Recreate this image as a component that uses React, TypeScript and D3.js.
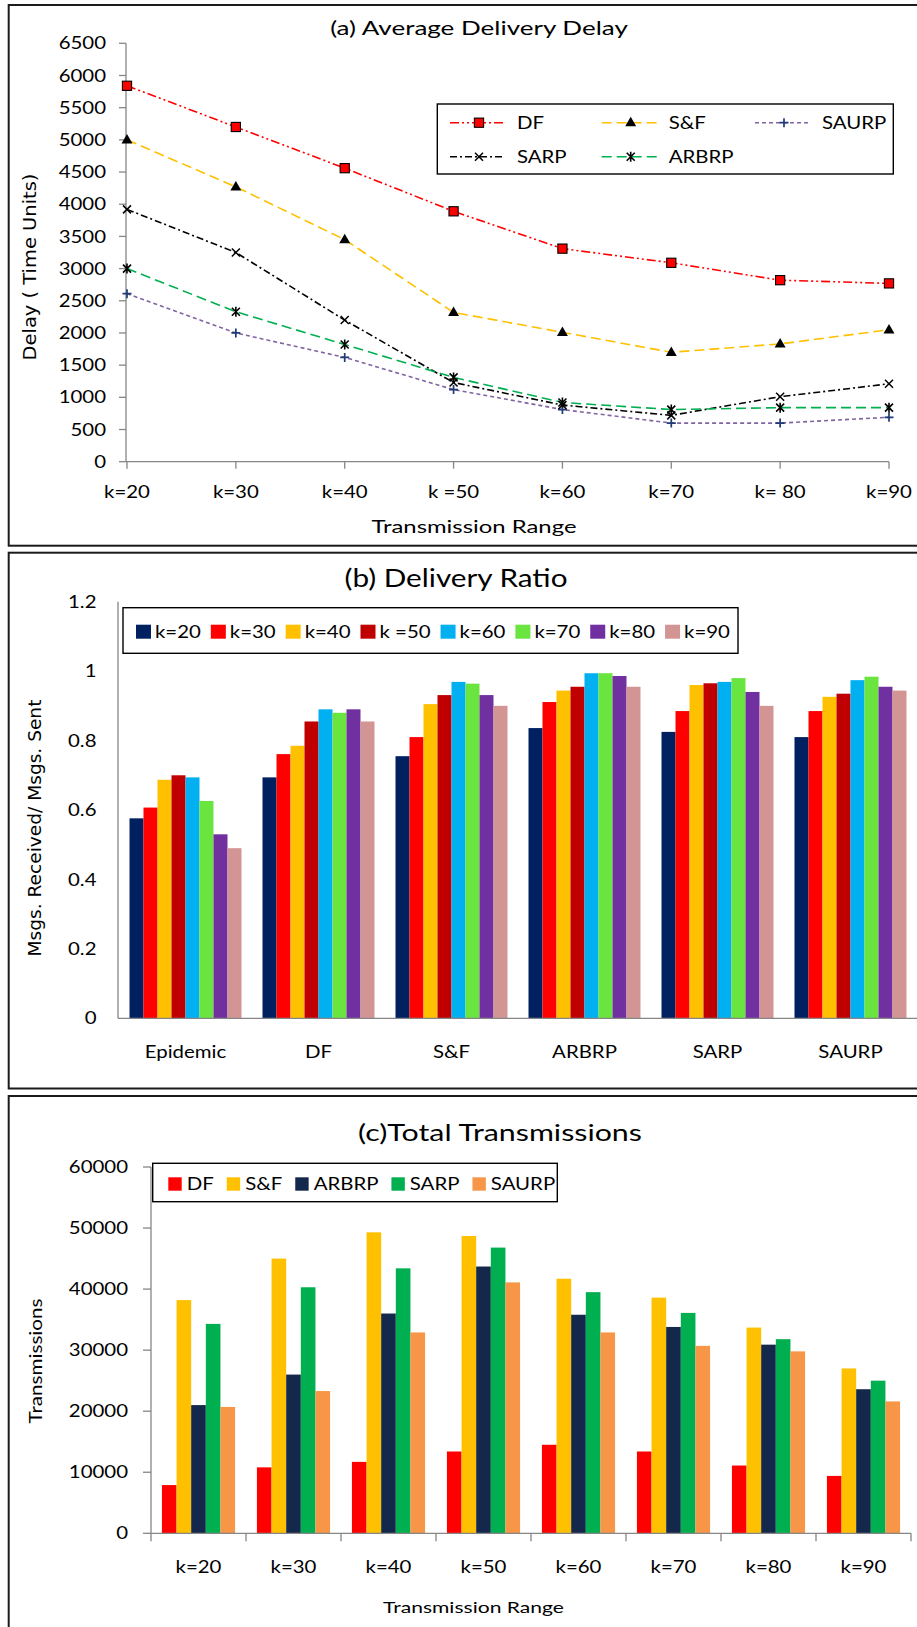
import React, { useEffect, useRef } from 'react';
import * as d3 from 'd3';

const W = 917;
const H = 1627;

const FONT = 'Lato, "Open Sans", sans-serif';
const WIDE_FONT = '"DejaVu Sans", Verdana, sans-serif';
const AXIS = '#868686';

// ---------- (a) Average Delivery Delay ----------
const rangeLabelsA = ['k=20', 'k=30', 'k=40', 'k =50', 'k=60', 'k=70', 'k= 80', 'k=90'];
const delayDF = [5840, 5200, 4560, 3890, 3310, 3090, 2820, 2770];
const delaySF = [5000, 4270, 3450, 2320, 2010, 1700, 1830, 2050];
const delaySAURP = [2610, 2000, 1620, 1120, 810, 600, 600, 690];
const delaySARP = [3920, 3250, 2200, 1230, 880, 720, 1010, 1210];
const delayARBRP = [3000, 2330, 1820, 1310, 920, 810, 840, 840];
const delayTicks = d3.range(0, 6501, 500);

// ---------- (b) Delivery Ratio ----------
const protocolsB = ['Epidemic', 'DF', 'S&F', 'ARBRP', 'SARP', 'SAURP'];
const rangeKeysB = ['k=20', 'k=30', 'k=40', 'k =50', 'k=60', 'k=70', 'k=80', 'k=90'];
const ratioEpidemic = [0.576, 0.607, 0.687, 0.7, 0.694, 0.626, 0.53, 0.49];
const ratioDF = [0.694, 0.761, 0.785, 0.855, 0.89, 0.88, 0.89, 0.855];
const ratioSF = [0.755, 0.81, 0.905, 0.931, 0.969, 0.964, 0.931, 0.9];
const ratioARBRP = [0.836, 0.911, 0.944, 0.955, 0.994, 0.994, 0.986, 0.955];
const ratioSARP = [0.825, 0.885, 0.96, 0.965, 0.969, 0.98, 0.94, 0.9];
const ratioSAURP = [0.81, 0.885, 0.926, 0.935, 0.974, 0.984, 0.955, 0.944];
const ratioTicks = [0, 0.2, 0.4, 0.6, 0.8, 1, 1.2];
const rangeColorsB = ['#002060', '#FF0000', '#FFC000', '#C00000', '#00B0F0', '#6AE43E', '#7030A0', '#D39594'];

// ---------- (c) Total Transmissions ----------
const rangeLabelsC = ['k=20', 'k=30', 'k=40', 'k=50', 'k=60', 'k=70', 'k=80', 'k=90'];
const protocolsC = ['DF', 'S&F', 'ARBRP', 'SARP', 'SAURP'];
const txDF = [7900, 10800, 11700, 13400, 14500, 13400, 11100, 9400];
const txSF = [38200, 45000, 49300, 48700, 41700, 38600, 33700, 27000];
const txARBRP = [21000, 26000, 36000, 43700, 35800, 33800, 30900, 23600];
const txSARP = [34300, 40300, 43400, 46800, 39500, 36100, 31800, 25000];
const txSAURP = [20700, 23300, 32900, 41100, 32900, 30700, 29800, 21600];
const txTicks = d3.range(0, 60001, 10000);
const protocolColorsC = ['#FF0000', '#FFC000', '#14284B', '#00B050', '#F79646'];

type G = d3.Selection<SVGGElement, unknown, null, undefined>;

interface LabelOpts {
  x: number;
  y: number;
  text: string;
  size?: number;
  family?: string;
  anchor?: string;
  sx?: number;
  rotate?: number;
  fit?: number;
  fill?: string;
}

// Text centred vertically on y, stretched horizontally by sx (or to a fixed width)
function label(g: G, o: LabelOpts) {
  const size = o.size ?? 17;
  const t = g
    .append('text')
    .attr('font-family', o.family ?? FONT)
    .attr('font-size', size)
    .attr('fill', o.fill ?? '#000')
    .attr('text-anchor', o.anchor ?? 'middle')
    .attr('dy', '0.36em')
    .text(o.text);
  let s = o.sx ?? 1.2;
  if (o.fit) {
    const w = (t.node() as SVGTextElement).getComputedTextLength();
    if (w > 0) s = o.fit / w;
  }
  t.attr('transform', `translate(${o.x},${o.y})${o.rotate ? ` rotate(${o.rotate})` : ''} scale(${s},1)`);
  return { node: t, width: (t.node() as SVGTextElement).getComputedTextLength() * s };
}

function frame(g: G, y0: number, y1: number) {
  g.append('rect')
    .attr('x', 8.7)
    .attr('y', y0)
    .attr('width', 940)
    .attr('height', y1 - y0)
    .attr('fill', 'none')
    .attr('stroke', '#1b1b1b')
    .attr('stroke-width', 2);
}

function marker(g: G, kind: string, x: number, y: number) {
  if (kind === 'square') {
    g.append('rect')
      .attr('x', x - 4.6)
      .attr('y', y - 4.6)
      .attr('width', 9.2)
      .attr('height', 9.2)
      .attr('fill', '#FF0000')
      .attr('stroke', '#000')
      .attr('stroke-width', 1.1);
  } else if (kind === 'triangle') {
    g.append('path')
      .attr('d', d3.symbol(d3.symbolTriangle, 52)())
      .attr('transform', `translate(${x},${y + 0.5})`)
      .attr('fill', '#000');
  } else if (kind === 'plus') {
    g.append('path')
      .attr('d', `M${x - 4.5},${y}H${x + 4.5}M${x},${y - 4.5}V${y + 4.5}`)
      .attr('stroke', '#1F3A78')
      .attr('stroke-width', 1.7)
      .attr('fill', 'none');
  } else if (kind === 'cross') {
    g.append('path')
      .attr('d', `M${x - 4},${y - 4}L${x + 4},${y + 4}M${x - 4},${y + 4}L${x + 4},${y - 4}`)
      .attr('stroke', '#000')
      .attr('stroke-width', 1.5)
      .attr('fill', 'none');
  } else if (kind === 'star') {
    g.append('path')
      .attr('d', `M${x - 4},${y - 4}L${x + 4},${y + 4}M${x - 4},${y + 4}L${x + 4},${y - 4}M${x},${y - 5}V${y + 5}`)
      .attr('stroke', '#000')
      .attr('stroke-width', 1.6)
      .attr('fill', 'none');
  }
}

function drawDelay(g: G) {
  frame(g, 5, 545.7);
  const x = d3.scalePoint<string>().domain(rangeLabelsA).range([127, 889]);
  const y = d3.scaleLinear().domain([0, 6500]).range([461.7, 43.3]);

  label(g, { x: 479, y: 28, text: '(a) Average Delivery Delay', size: 20, fit: 298 });

  // axes
  g.append('line').attr('x1', 126).attr('x2', 126).attr('y1', y(6500)).attr('y2', y(0)).attr('stroke', AXIS).attr('stroke-width', 1.3);
  delayTicks.forEach((t) => {
    g.append('line').attr('x1', 119).attr('x2', 126).attr('y1', y(t)).attr('y2', y(t)).attr('stroke', AXIS).attr('stroke-width', 1.3);
    label(g, { x: 106, y: y(t), text: String(t), anchor: 'end' });
  });
  g.append('line').attr('x1', 126).attr('x2', x(rangeLabelsA[7])!).attr('y1', y(0)).attr('y2', y(0)).attr('stroke', AXIS).attr('stroke-width', 1.3);
  rangeLabelsA.forEach((k) => {
    g.append('line').attr('x1', x(k)!).attr('x2', x(k)!).attr('y1', y(0)).attr('y2', y(0) + 7).attr('stroke', AXIS).attr('stroke-width', 1.3);
    label(g, { x: x(k)!, y: 492, text: k });
  });
  label(g, { x: 474, y: 527, text: 'Transmission Range', fit: 205 });
  label(g, { x: 30, y: 267, text: 'Delay ( Time Units)', family: WIDE_FONT, size: 18, rotate: -90, fit: 187 });

  const series = [
    { name: 'DF', values: delayDF, color: '#FF0000', dash: '9 3 2 3 2 3', mark: 'square' },
    { name: 'S&F', values: delaySF, color: '#FFC000', dash: '10 5', mark: 'triangle' },
    { name: 'SAURP', values: delaySAURP, color: '#8064A2', dash: '4 3', mark: 'plus' },
    { name: 'SARP', values: delaySARP, color: '#000000', dash: '7 3 2 3', mark: 'cross' },
    { name: 'ARBRP', values: delayARBRP, color: '#00B050', dash: '10 5', mark: 'star' },
  ];
  const line = d3
    .line<number>()
    .x((_, i) => x(rangeLabelsA[i])!)
    .y((v) => y(v));
  series.forEach((s) => {
    g.append('path').attr('d', line(s.values)!).attr('fill', 'none').attr('stroke', s.color).attr('stroke-width', 1.6).attr('stroke-dasharray', s.dash);
  });
  series.forEach((s) => {
    s.values.forEach((v, i) => marker(g, s.mark, x(rangeLabelsA[i])!, y(v)));
  });

  // legend: three columns, two rows
  g.append('rect').attr('x', 437.3).attr('y', 104).attr('width', 456).attr('height', 70).attr('fill', '#fff').attr('stroke', '#000').attr('stroke-width', 1.4);
  const cols = [450, 601.7, 755];
  const rows = [122.7, 156.7];
  series.forEach((s, i) => {
    const lx = cols[i % 3];
    const ly = rows[Math.floor(i / 3)];
    g.append('line').attr('x1', lx).attr('x2', lx + 55).attr('y1', ly).attr('y2', ly).attr('stroke', s.color).attr('stroke-width', 1.6).attr('stroke-dasharray', s.dash);
    marker(g, s.mark, lx + 29, ly);
    label(g, { x: lx + 67, y: ly, text: s.name, anchor: 'start' });
  });
}

function drawRatio(g: G) {
  frame(g, 552.7, 1088.5);
  const table = [ratioEpidemic, ratioDF, ratioSF, ratioARBRP, ratioSARP, ratioSAURP];
  const x0 = d3.scaleBand<string>().domain(protocolsB).range([119, 917]).paddingInner(0.158).paddingOuter(0.079);
  const x1 = d3.scaleBand<string>().domain(rangeKeysB).range([0, x0.bandwidth()]);
  const y = d3.scaleLinear().domain([0, 1.2]).range([1018.3, 601.7]);

  label(g, { x: 456, y: 578, text: '(b) Delivery Ratio', size: 25, fit: 223 });

  protocolsB.forEach((p, pi) => {
    rangeKeysB.forEach((k, ki) => {
      const v = table[pi][ki];
      g.append('rect')
        .attr('x', x0(p)! + x1(k)!)
        .attr('y', y(v))
        .attr('width', x1.bandwidth())
        .attr('height', y(0) - y(v))
        .attr('fill', rangeColorsB[ki]);
    });
    label(g, { x: x0(p)! + x0.bandwidth() / 2, y: 1051.7, text: p });
  });

  g.append('line').attr('x1', 118).attr('x2', 118).attr('y1', y(1.2)).attr('y2', y(0)).attr('stroke', AXIS).attr('stroke-width', 1.3);
  g.append('line').attr('x1', 118).attr('x2', 917).attr('y1', y(0)).attr('y2', y(0)).attr('stroke', AXIS).attr('stroke-width', 1.3);
  ratioTicks.forEach((t) => label(g, { x: 96.5, y: y(t), text: String(t), anchor: 'end' }));
  label(g, { x: 35, y: 828, text: 'Msgs. Received/ Msgs. Sent', family: WIDE_FONT, size: 18, rotate: -90, fit: 257 });

  // legend
  g.append('rect').attr('x', 123).attr('y', 607.7).attr('width', 615).attr('height', 45.6).attr('fill', '#fff').attr('stroke', '#000').attr('stroke-width', 1.4);
  let lx = 136;
  rangeKeysB.forEach((k, i) => {
    g.append('rect').attr('x', lx).attr('y', 624.7).attr('width', 15).attr('height', 14).attr('fill', rangeColorsB[i]);
    const r = label(g, { x: lx + 19, y: 631.7, text: k, anchor: 'start' });
    lx += 19 + r.width + 10;
  });
}

function drawTransmissions(g: G) {
  frame(g, 1096, 1680);
  const table = [txDF, txSF, txARBRP, txSARP, txSAURP];
  const x0 = d3.scaleBand<string>().domain(rangeLabelsC).range([151, 911]).paddingInner(0.23).paddingOuter(0.115);
  const x1 = d3.scaleBand<string>().domain(protocolsC).range([0, x0.bandwidth()]);
  const y = d3.scaleLinear().domain([0, 60000]).range([1533.3, 1167]);

  label(g, { x: 500, y: 1133, text: '(c)Total Transmissions', size: 23, fit: 284 });

  rangeLabelsC.forEach((k, ki) => {
    protocolsC.forEach((p, pi) => {
      const v = table[pi][ki];
      g.append('rect')
        .attr('x', x0(k)! + x1(p)!)
        .attr('y', y(v))
        .attr('width', x1.bandwidth())
        .attr('height', y(0) - y(v))
        .attr('fill', protocolColorsC[pi]);
    });
    label(g, { x: x0(k)! + x0.bandwidth() / 2, y: 1566.7, text: k });
  });

  g.append('line').attr('x1', 151).attr('x2', 151).attr('y1', y(60000)).attr('y2', y(0)).attr('stroke', AXIS).attr('stroke-width', 1.3);
  txTicks.forEach((t) => {
    g.append('line').attr('x1', 143).attr('x2', 151).attr('y1', y(t)).attr('y2', y(t)).attr('stroke', AXIS).attr('stroke-width', 1.3);
    label(g, { x: 128, y: y(t), text: String(t), anchor: 'end' });
  });
  g.append('line').attr('x1', 151).attr('x2', 911).attr('y1', y(0)).attr('y2', y(0)).attr('stroke', AXIS).attr('stroke-width', 1.3);
  const step = x0.step();
  d3.range(rangeLabelsC.length + 1).forEach((i) => {
    const tx = 151 + i * step;
    g.append('line').attr('x1', tx).attr('x2', tx).attr('y1', y(0)).attr('y2', y(0) + 8).attr('stroke', AXIS).attr('stroke-width', 1.3);
  });
  label(g, { x: 473.5, y: 1607, text: 'Transmission Range', size: 16, fit: 181 });
  label(g, { x: 35.5, y: 1361, text: 'Transmissions', rotate: -90, fit: 125 });

  // legend
  g.append('rect').attr('x', 152.7).attr('y', 1163.3).attr('width', 404.6).attr('height', 38.4).attr('fill', '#fff').attr('stroke', '#000').attr('stroke-width', 1.4);
  let lx = 168.3;
  protocolsC.forEach((p, i) => {
    g.append('rect').attr('x', lx).attr('y', 1177.3).attr('width', 13.4).attr('height', 13.4).attr('fill', protocolColorsC[i]);
    const r = label(g, { x: lx + 18.4, y: 1184, text: p, anchor: 'start' });
    lx += 18.4 + r.width + 13;
  });
}

export default function App() {
  const ref = useRef<SVGSVGElement>(null);
  useEffect(() => {
    const svg = d3.select(ref.current);
    svg.selectAll('*').remove();
    drawDelay(svg.append('g') as unknown as G);
    drawRatio(svg.append('g') as unknown as G);
    drawTransmissions(svg.append('g') as unknown as G);
  }, []);
  return (
    <svg
      ref={ref}
      width={W}
      height={H}
      style={{ position: 'absolute', left: 0, top: 0, display: 'block', background: '#fff' }}
    />
  );
}
